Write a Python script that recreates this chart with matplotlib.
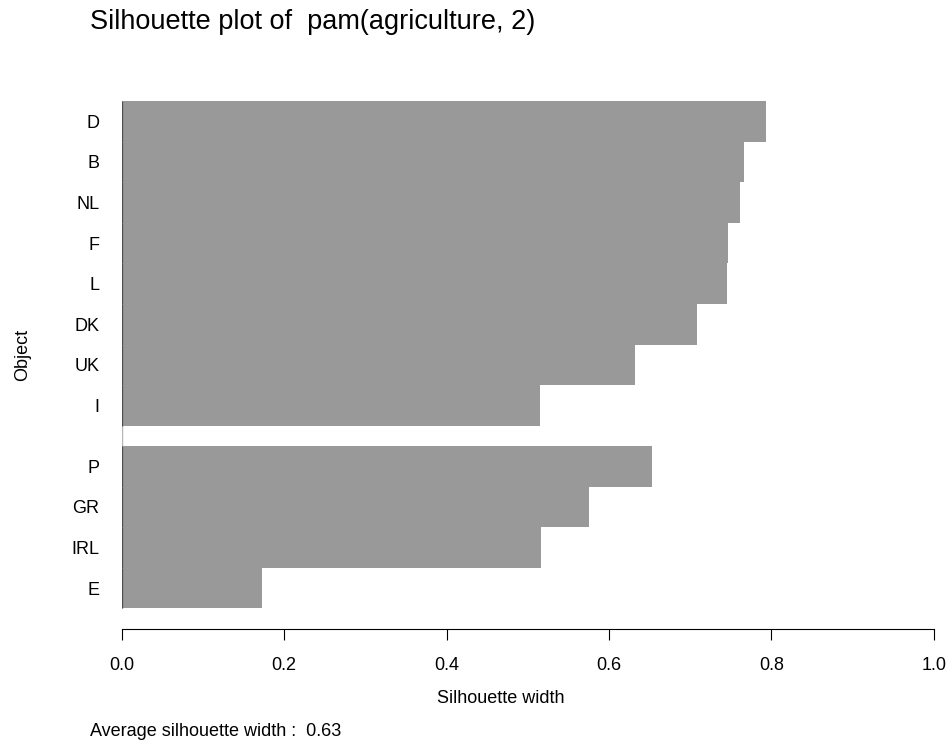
import numpy as np
import matplotlib
matplotlib.use("Agg")
import matplotlib.pyplot as plt

plt.rcParams['font.family'] = ['Liberation Sans', 'DejaVu Sans']

# silhouette widths from pam(agriculture, 2), sorted within each cluster
labels = ["D", "B", "NL", "F", "L", "DK", "UK", "I", "P", "GR", "IRL", "E"]
clusters = [1, 1, 1, 1, 1, 1, 1, 1, 2, 2, 2, 2]
widths = [0.793, 0.766, 0.761, 0.746, 0.745, 0.708, 0.632, 0.515,
          0.653, 0.575, 0.516, 0.173]
xticks = [0.0, 0.2, 0.4, 0.6, 0.8, 1.0]

bar_col = '#999999'
fs = 13

# bar positions, bottom-up, half a bar of space between clusters
n = len(labels)
ypos = np.zeros(n)
y = 0.0
for i in reversed(range(n)):
    if i < n - 1 and clusters[i] != clusters[i + 1]:
        y += 0.5
    ypos[i] = y + 0.5
    y += 1.0
top = y

fig = plt.figure(figsize=(9.48, 7.42), dpi=100)
ax = fig.add_axes([0.1282, 0.1526, 0.9852 - 0.1282, 0.8912 - 0.1526])

ax.barh(ypos, widths, height=1.0, color=bar_col, linewidth=0)
ax.vlines(0, ypos.min() - 0.5, ypos.max() + 0.5, color='#b5b5b5', lw=1.0)
ax.vlines(np.zeros(n), ypos - 0.5, ypos + 0.5, color='#4d4d4d', lw=1.0)

ax.set_xlim(0, 1)
ax.set_ylim(-0.5, top + 0.5)

for s in ['top', 'right', 'left']:
    ax.spines[s].set_visible(False)
ax.spines['bottom'].set_linewidth(0.8)

ax.set_xticks(xticks)
ax.set_xticklabels([f"{t:.1f}" for t in xticks], fontsize=fs)
ax.tick_params(axis='x', length=8, width=0.8, pad=12.5)

ax.set_yticks(ypos)
ax.set_yticklabels(labels, fontsize=fs)
ax.tick_params(axis='y', length=0, pad=16)

fig.text(0.5282, 1 - 703 / 742, "Silhouette width", fontsize=fs,
         ha='center', va='baseline')
fig.text(22.5 / 948, 1 - 355 / 742, "Object", fontsize=fs, rotation=90,
         ha='center', va='center')
fig.text(90 / 948, 1 - 29.3 / 742, "Silhouette plot of  pam(agriculture, 2)",
         fontsize=19.5, ha='left', va='baseline')
fig.text(90 / 948, 1 - 735.5 / 742,
         f"Average silhouette width :  {np.mean(widths):.2f}",
         fontsize=fs, ha='left', va='baseline')

fig.savefig("out.png", dpi=100)
